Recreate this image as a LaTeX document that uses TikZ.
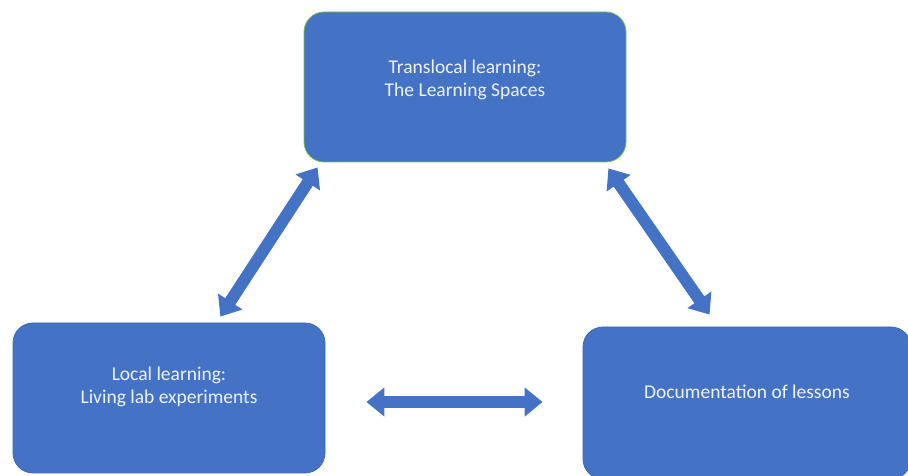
\documentclass[tikz,border=0pt]{standalone}
\usepackage{fontspec}
\setmainfont{Carlito}
\usetikzlibrary{arrows.meta,calc}
\definecolor{boxblue}{HTML}{4472C4}
\definecolor{boxedge}{HTML}{3F69B5}
\definecolor{topedge}{HTML}{7DBE4E}
\definecolor{boxtxt}{HTML}{EEF2FA}
\tikzset{
  card/.style={fill=boxblue, draw=boxedge, line width=0.8pt, rounded corners=20pt,
    inner sep=0pt},
  cardtext/.style={text=boxtxt, font=\fontsize{19.5}{22.5}\selectfont, align=center},
  twoway/.style={draw=boxblue, line width=12pt,
    {Triangle[width=28pt,length=18pt]}-{Triangle[width=28pt,length=18pt]}}
}
\begin{document}
\begin{tikzpicture}[x=1pt,y=1pt]
  \clip (0,0) rectangle (908,476);
  \fill[white] (0,0) rectangle (908,476);
  % the three boxes
  \node[card, draw=topedge, minimum width=322pt, minimum height=150pt,
        label={[cardtext, yshift=7pt]center:Translocal learning:\\The Learning Spaces}]
        (translocal) at (465,389) {};
  \node[card, minimum width=312pt, minimum height=150pt,
        label={[cardtext, yshift=11pt]center:Local learning:\\Living lab experiments}]
        (local) at (169,78) {};
  \node[card, minimum width=328pt, minimum height=152pt,
        label={[cardtext, yshift=11pt]center:Documentation of lessons}]
        (docs) at (747,73) {};
  % double-headed links between the boxes
  \draw[twoway] ($(translocal.south west)+(14,-5)$) -- ($(local.north east)+(-105,6)$);
  \draw[twoway] ($(translocal.south east)+(-18,-6)$) -- ($(docs.north west)+(127,12)$);
  \draw[twoway] ($(local.east)+(41,-4)$) -- ($(docs.west)+(-40,1)$);
\end{tikzpicture}
\end{document}
